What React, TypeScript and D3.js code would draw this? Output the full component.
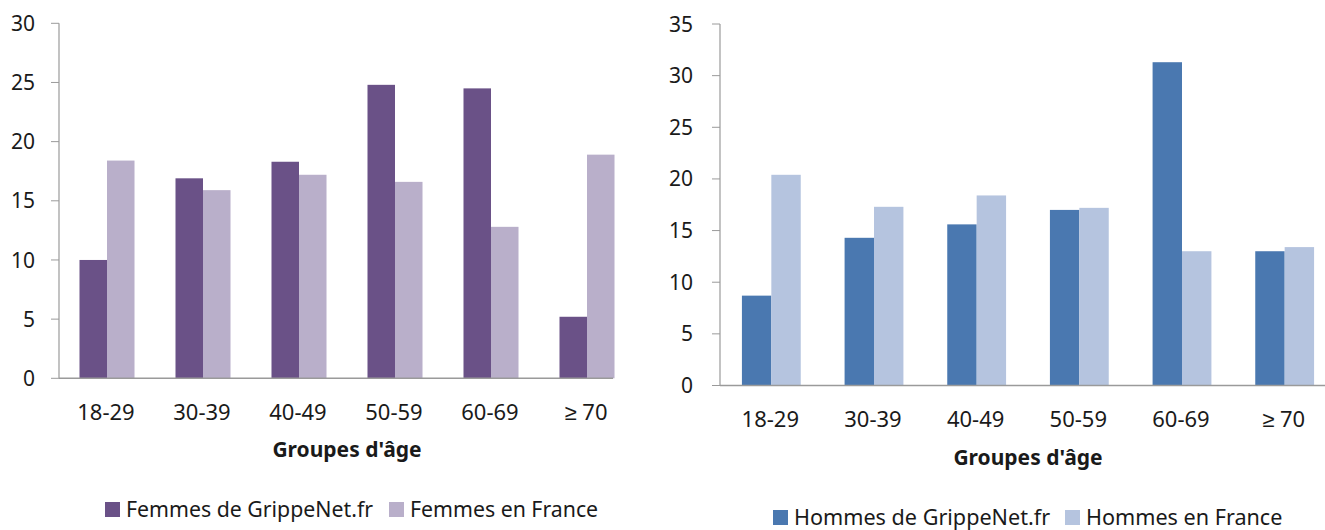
import React from "react";
import * as d3 from "d3";

const categories = ["18-29", "30-39", "40-49", "50-59", "60-69", "≥ 70"];
const femmesGrippeNet = [10.0, 16.9, 18.3, 24.8, 24.5, 5.2];
const femmesFrance = [18.4, 15.9, 17.2, 16.6, 12.8, 18.9];
const hommesGrippeNet = [8.7, 14.3, 15.6, 17.0, 31.3, 13.0];
const hommesFrance = [20.4, 17.3, 18.4, 17.2, 13.0, 13.4];
const femmesTicks = [0, 5, 10, 15, 20, 25, 30];
const hommesTicks = [0, 5, 10, 15, 20, 25, 30, 35];
const seriesNamesF = ["Femmes de GrippeNet.fr", "Femmes en France"];
const seriesNamesH = ["Hommes de GrippeNet.fr", "Hommes en France"];
const axisTitle = "Groupes d'âge";

const FONT = "'Noto Sans', sans-serif";

type PanelProps = {
  a: number[];
  b: number[];
  ticks: number[];
  names: string[];
  colors: string[];
  x0: number;
  x1: number;
  axisEnd: number;
  yTop: number;
  yBottom: number;
  tickLabelGap: number;
  labelY: number;
  titleY: number;
  legendX: number[];
  legendY: number;
  legendSize: number;
};

function Panel(p: PanelProps) {
  const yMax = p.ticks[p.ticks.length - 1];
  const x = d3
    .scaleBand<string>()
    .domain(categories)
    .range([p.x0, p.x1])
    .paddingInner(0.427)
    .paddingOuter(0.2135);
  const sub = d3.scaleBand<number>().domain([0, 1]).range([0, x.bandwidth()]);
  const y = d3.scaleLinear().domain([0, yMax]).range([p.yBottom, p.yTop]);
  const series = [p.a, p.b];
  return (
    <g>
      {series.map((vals, si) =>
        vals.map((v, i) => (
          <rect
            key={`${si}-${i}`}
            x={(x(categories[i]) ?? 0) + (sub(si) ?? 0)}
            y={y(v)}
            width={sub.bandwidth()}
            height={y(0) - y(v)}
            fill={p.colors[si]}
          />
        ))
      )}
      <line x1={p.x0} x2={p.x0} y1={y(yMax)} y2={y(0)} stroke="#9a9a9a" strokeWidth={1.2} />
      <line x1={p.x0} x2={p.axisEnd} y1={y(0)} y2={y(0)} stroke="#9a9a9a" strokeWidth={1.5} />
      {p.ticks.map((t) => (
        <g key={t}>
          <line x1={p.x0 - 8} x2={p.x0} y1={y(t)} y2={y(t)} stroke="#9a9a9a" strokeWidth={1} />
          <text
            x={p.x0 - p.tickLabelGap}
            y={y(t)}
            dy="0.36em"
            textAnchor="end"
            fontFamily={FONT}
            fontSize={21}
            fill="#1a1a1a"
          >
            {t}
          </text>
        </g>
      ))}
      {categories.map((c) => (
        <text
          key={c}
          x={(x(c) ?? 0) + x.bandwidth() / 2 - 1}
          y={p.labelY}
          textAnchor="middle"
          fontFamily={FONT}
          fontSize={22}
          fill="#1a1a1a"
        >
          {c}
        </text>
      ))}
      <text
        x={(p.x0 + p.x1) / 2}
        y={p.titleY}
        textAnchor="middle"
        fontFamily={FONT}
        fontSize={21}
        fontWeight="bold"
        fill="#1a1a1a"
      >
        {axisTitle}
      </text>
      {p.names.map((n, i) => (
        <g key={n}>
          <rect
            x={p.legendX[i]}
            y={p.legendY - 15}
            width={15}
            height={15}
            fill={p.colors[i]}
          />
          <text
            x={p.legendX[i] + 21}
            y={p.legendY}
            fontFamily={FONT}
            fontSize={p.legendSize}
            fill="#1a1a1a"
          >
            {n}
          </text>
        </g>
      ))}
    </g>
  );
}

export default function App() {
  return (
    <svg
      width={1325}
      height={530}
      style={{ position: "absolute", left: 0, top: 0, background: "#fff" }}
    >
      <rect x={0} y={0} width={1325} height={530} fill="#fff" />
      <Panel
        a={femmesGrippeNet}
        b={femmesFrance}
        ticks={femmesTicks}
        names={seriesNamesF}
        colors={["#6a5187", "#b9afca"]}
        x0={59}
        x1={635}
        axisEnd={613}
        yTop={23.3}
        yBottom={378.3}
        tickLabelGap={24}
        labelY={420}
        titleY={457}
        legendX={[105, 389]}
        legendY={517}
        legendSize={21.3}
      />
      <Panel
        a={hommesGrippeNet}
        b={hommesFrance}
        ticks={hommesTicks}
        names={seriesNamesH}
        colors={["#4a78b0", "#b5c4df"]}
        x0={720}
        x1={1336}
        axisEnd={1325}
        yTop={24}
        yBottom={385.5}
        tickLabelGap={27}
        labelY={426.5}
        titleY={465}
        legendX={[773, 1065]}
        legendY={525}
        legendSize={21.6}
      />
    </svg>
  );
}
